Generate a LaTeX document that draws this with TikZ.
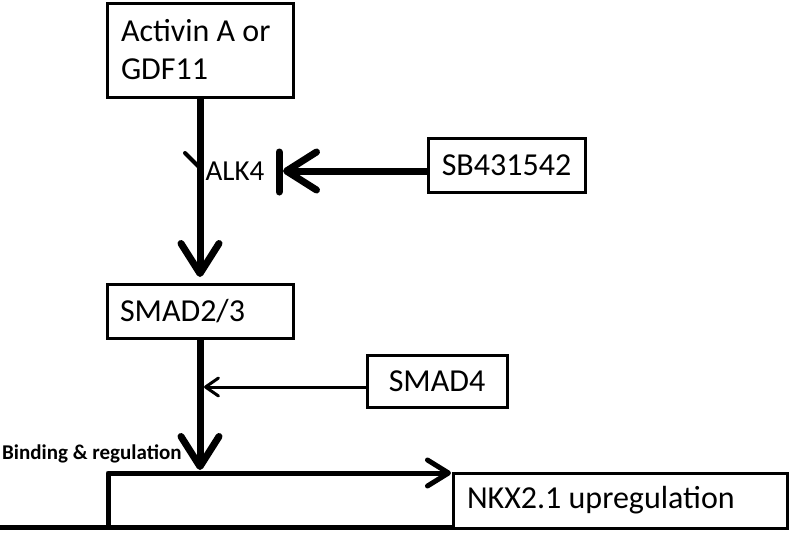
\documentclass[tikz,border=0pt]{standalone}
\usepackage{fontspec}
\setmainfont{Carlito}
\usetikzlibrary{arrows.meta}
\tikzset{
  gbox/.style={draw, line width=3pt, rectangle, font=\fontsize{32}{38}\selectfont, inner ysep=0pt},
  bigarrow/.style={line width=7pt, -{Straight Barb[length=30pt,width=38pt,round]}},
  thinarrow/.style={line width=3pt, -{Straight Barb[length=13pt,width=18pt,round]}},
  bar/.style={line width=7pt, line cap=round},
  geneline/.style={line width=5pt},
  genearrow/.style={line width=5pt, -{Straight Barb[length=21pt,width=26pt,round]}},
}
\begin{document}
\begin{tikzpicture}[x=1pt,y=-1pt]
\useasboundingbox (0,0) rectangle (792,533);
% boxes
\node[gbox, minimum width=186pt, minimum height=94pt, text width=158pt, inner xsep=14pt, align=flush left] (act) at (200,50) {Activin A or\\GDF11};
\node[gbox, minimum width=186pt, minimum height=54pt, text width=160pt, inner xsep=13pt, align=flush left] (smad23) at (200,311) {SMAD2/3};
\node[gbox, minimum width=157pt, minimum height=54pt] (sb) at (506.5,165) {SB431542};
\node[gbox, minimum width=140pt, minimum height=52pt] (smad4) at (437,381) {SMAD4};
\node[gbox, minimum width=334pt, minimum height=55pt, text width=306pt, inner xsep=14pt, align=flush left] (nkx) at (620,500.5) {NKX2.1 upregulation};
% labels
\node[font=\fontsize{29}{30}\selectfont, inner sep=0pt] (alk) at (235,171) {ALK4};
\node[font=\fontsize{21}{24}\selectfont\bfseries, inner sep=0pt, anchor=west] (bind) at (2,454) {Binding \& regulation};
% coordinates
\coordinate (tip1) at (200,277);
\coordinate (tip2) at (200,470);
\coordinate (bartop) at (279,152);
\coordinate (barbot) at (279,192);
\coordinate (bartip) at (283,171);
\coordinate (sbstart) at (428,171);
\coordinate (s4start) at (367,387);
\coordinate (s4tip) at (204,387);
\coordinate (y1) at (185,153);
\coordinate (y2) at (200,168);
\coordinate (g0) at (0,527);
\coordinate (g1) at (108,527);
\coordinate (g2) at (108,473);
\coordinate (g3) at (451,473);
\coordinate (g4) at (453,527);
% connectors
\draw[bigarrow] (act.south) -- (tip1);
\draw[line width=4pt, line cap=round] (y1) -- (y2);
\draw[bigarrow] (smad23.south) -- (tip2);
\draw[bar] (bartop) -- (barbot);
\draw[bigarrow] (sbstart) -- (bartip);
\draw[thinarrow] (s4start) -- (s4tip);
\draw[geneline] (g0) -- (g4);
\draw[genearrow, line join=round] (g1) -- (g2) -- (g3);
\end{tikzpicture}
\end{document}
